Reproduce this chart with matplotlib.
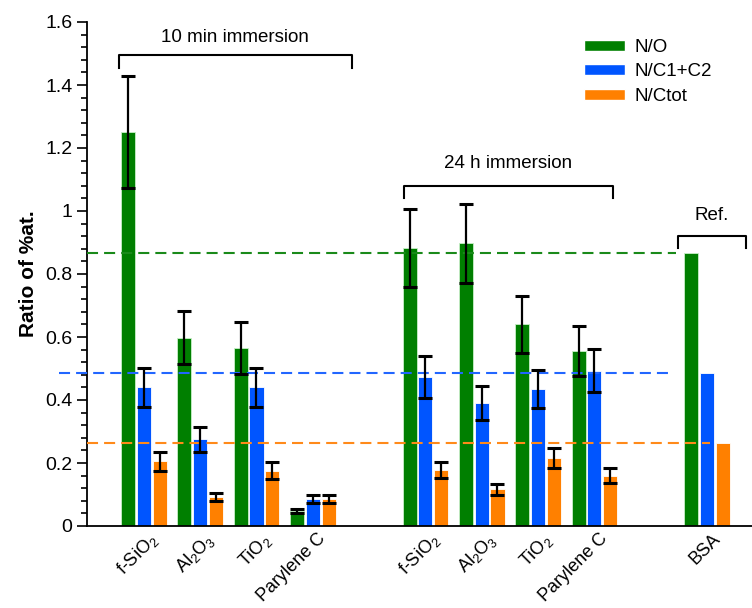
import matplotlib
matplotlib.use("Agg")
import matplotlib.pyplot as plt
import numpy as np
from matplotlib.patches import Patch
from matplotlib.ticker import MultipleLocator, FormatStrFormatter

plt.rcParams['font.family'] = ['Liberation Sans', 'DejaVu Sans']
plt.rcParams['mathtext.fontset'] = 'custom'
plt.rcParams['mathtext.rm'] = 'Liberation Sans'
plt.rcParams['mathtext.it'] = 'Liberation Sans'

# ---- data ----
categories = ['f-SiO$_2$', 'Al$_2$O$_3$', 'TiO$_2$', 'Parylene C',
              'f-SiO$_2$', 'Al$_2$O$_3$', 'TiO$_2$', 'Parylene C', 'BSA']
positions = [0, 1, 2, 3, 5, 6, 7, 8, 10]
series_names = ['N/O', 'N/C1+C2', 'N/Ctot']
n_o = [1.25, 0.598, 0.566, 0.047, 0.882, 0.897, 0.640, 0.555, 0.866]
n_o_err = [0.177, 0.085, 0.083, 0.007, 0.124, 0.126, 0.090, 0.079, 0.0]
n_c12 = [0.440, 0.275, 0.440, 0.087, 0.473, 0.390, 0.434, 0.493, 0.485]
n_c12_err = [0.063, 0.040, 0.063, 0.013, 0.067, 0.055, 0.060, 0.069, 0.0]
n_ctot = [0.205, 0.093, 0.176, 0.087, 0.177, 0.116, 0.216, 0.160, 0.262]
n_ctot_err = [0.030, 0.013, 0.027, 0.013, 0.026, 0.018, 0.032, 0.023, 0.0]
ref_levels = [0.866, 0.487, 0.263]
group_labels = ['10 min immersion', '24 h immersion', 'Ref.']

colors = ['#007f00', '#0055ff', '#ff8000']

fig = plt.figure(figsize=(7.52, 6.08), dpi=100)
ax = fig.add_axes([87/752, 82/608, 665/752, 504/608])

x = np.array(positions, dtype=float)
w = 0.25
off = 0.28
values = [n_o, n_c12, n_ctot]
errs = [n_o_err, n_c12_err, n_ctot_err]
for i, (vals, er, c, name) in enumerate(zip(values, errs, colors, series_names)):
    xs = x + (i - 1) * off
    ax.bar(xs, vals, width=w, color=c, edgecolor='#c8f0c8' if i == 0 else 'white',
           linewidth=0.6, label=name, zorder=2)
    er_arr = np.array(er)
    m = er_arr > 0
    ax.errorbar(xs[m], np.array(vals)[m], yerr=er_arr[m], fmt='none',
                ecolor='black', elinewidth=1.6, capsize=4.8, capthick=2.2, zorder=4)

# reference dashed lines
dash = (0, (5.3, 2.9))
ax.plot([-1.01, 9.45], [ref_levels[0]] * 2, ls=dash, color='#1a8a1a', lw=1.5,
        clip_on=False, zorder=3)
ax.plot([-1.51, 9.4], [ref_levels[1]] * 2, ls=dash, color='#2266ff', lw=1.5,
        clip_on=False, zorder=3)
ax.plot([-1.01, 10.05], [ref_levels[2]] * 2, ls=dash, color='#ff8a1a', lw=1.5,
        clip_on=False, zorder=3)

# group brackets
def bracket(x0, x1, ytop, ybot, label, ytext):
    ax.plot([x0, x0, x1, x1], [ybot, ytop, ytop, ybot], color='black', lw=1.5,
            clip_on=False, zorder=5)
    ax.text((x0 + x1) / 2, ytext, label, ha='center', va='center', fontsize=13.5)

bracket(-0.44, 3.69, 1.495, 1.454, group_labels[0], 1.552)
bracket(4.62, 8.33, 1.079, 1.041, group_labels[1], 1.152)
bracket(9.48, 10.69, 0.921, 0.883, group_labels[2], 0.987)

ax.set_xlim(-1.01, 10.8)
ax.set_ylim(0, 1.6)
ax.spines['top'].set_visible(False)
ax.spines['right'].set_visible(False)
ax.spines['left'].set_linewidth(1.3)
ax.spines['bottom'].set_linewidth(1.3)
ax.yaxis.set_major_locator(MultipleLocator(0.2))
ax.yaxis.set_minor_locator(MultipleLocator(0.04))
ax.yaxis.set_major_formatter(FormatStrFormatter('%g'))
ax.tick_params(axis='y', which='major', length=7, width=1.2, labelsize=14, direction='out')
ax.tick_params(axis='y', which='minor', length=4, width=1.2, direction='out')
ax.set_xticks(x + 0.08)
ax.set_xticklabels(categories, rotation=45, ha='right', rotation_mode='anchor', fontsize=13)
ax.tick_params(axis='x', length=0, pad=3)

ax.set_ylabel('Ratio of %at.', fontsize=15, fontweight='bold', labelpad=5)

handles = [Patch(facecolor=c, edgecolor='white') for c in colors]
ax.legend(handles, series_names, loc='upper left', bbox_to_anchor=(480/665, 1.0),
          frameon=False, fontsize=13.5, handlelength=2.2, handleheight=0.55,
          labelspacing=0.4, handletextpad=0.5)

fig.savefig('out.png', dpi=100)
